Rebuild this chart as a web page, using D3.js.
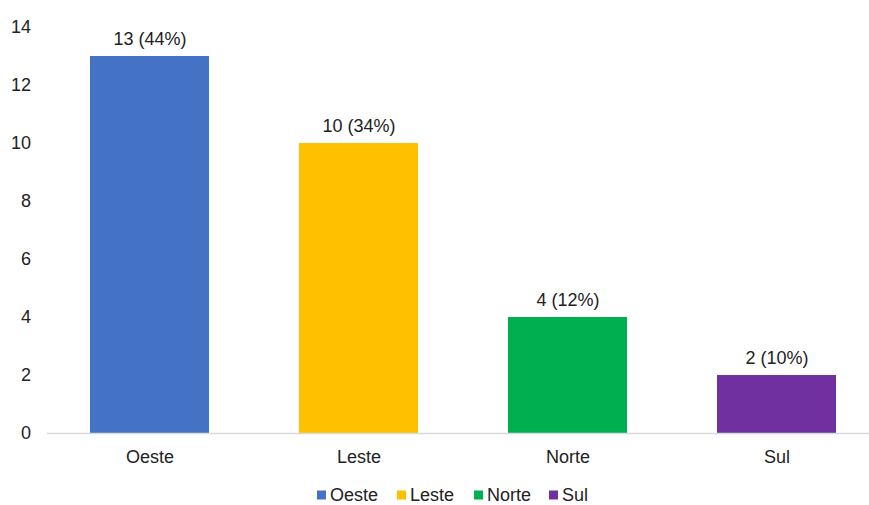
<!DOCTYPE html>
<html><head><meta charset="utf-8">
<script src="https://cdn.jsdelivr.net/npm/d3@7"></script>
<style>body{margin:0;background:#fff;}svg{display:block;font-family:"Liberation Sans",Arial,sans-serif;}</style>
</head><body><svg id="c" width="869" height="505"></svg>
<script>
const categories = ["Oeste","Leste","Norte","Sul"];
const values = [13,10,4,2];
const labels = ["13 (44%)","10 (34%)","4 (12%)","2 (10%)"];
const colors = ["#4472C4","#FFC000","#00B050","#7030A0"];
const yTicks = [0,2,4,6,8,10,12,14];

const svg = d3.select("#c");
const x = d3.scaleBand().domain(categories).range([45.5,881.5]).paddingInner(0.43).paddingOuter(0.215);
const y = d3.scaleLinear().domain([0,14]).range([433,27]);

// y tick labels
svg.append("g").selectAll("text").data(yTicks).join("text")
  .attr("x",31).attr("y",d=>y(d)).attr("dy","0.35em")
  .attr("text-anchor","end").attr("font-size",18).attr("fill","#222")
  .text(d=>d);

// bars
svg.append("g").selectAll("rect").data(categories).join("rect")
  .attr("x",d=>Math.round(x(d))).attr("width",Math.round(x.bandwidth()))
  .attr("y",(d,i)=>y(values[i])).attr("height",(d,i)=>y(0)-y(values[i]))
  .attr("fill",(d,i)=>colors[i]);

// baseline
svg.append("line").attr("x1",47).attr("x2",869).attr("y1",y(0)+0.5).attr("y2",y(0)+0.5)
  .attr("stroke","#D9D9D9").attr("stroke-width",1.5);

// data labels
svg.append("g").selectAll("text").data(categories).join("text")
  .attr("x",d=>x(d)+x.bandwidth()/2).attr("y",(d,i)=>y(values[i])-11)
  .attr("text-anchor","middle").attr("font-size",18).attr("fill","#222")
  .text((d,i)=>labels[i]);

// x labels
svg.append("g").selectAll("text").data(categories).join("text")
  .attr("x",d=>x(d)+x.bandwidth()/2).attr("y",457).attr("dy","0.35em")
  .attr("text-anchor","middle").attr("font-size",18).attr("fill","#222")
  .text(d=>d);

// legend
const legX = [317,397,474,549];
const lg = svg.append("g").selectAll("g").data(categories).join("g")
  .attr("transform",(d,i)=>`translate(${legX[i]},495)`);
lg.append("rect").attr("x",0).attr("y",-4.5).attr("width",9).attr("height",9).attr("fill",(d,i)=>colors[i]);
lg.append("text").attr("x",13).attr("y",0).attr("dy","0.35em").attr("font-size",18).attr("fill","#222").text(d=>d);
</script></body></html>
